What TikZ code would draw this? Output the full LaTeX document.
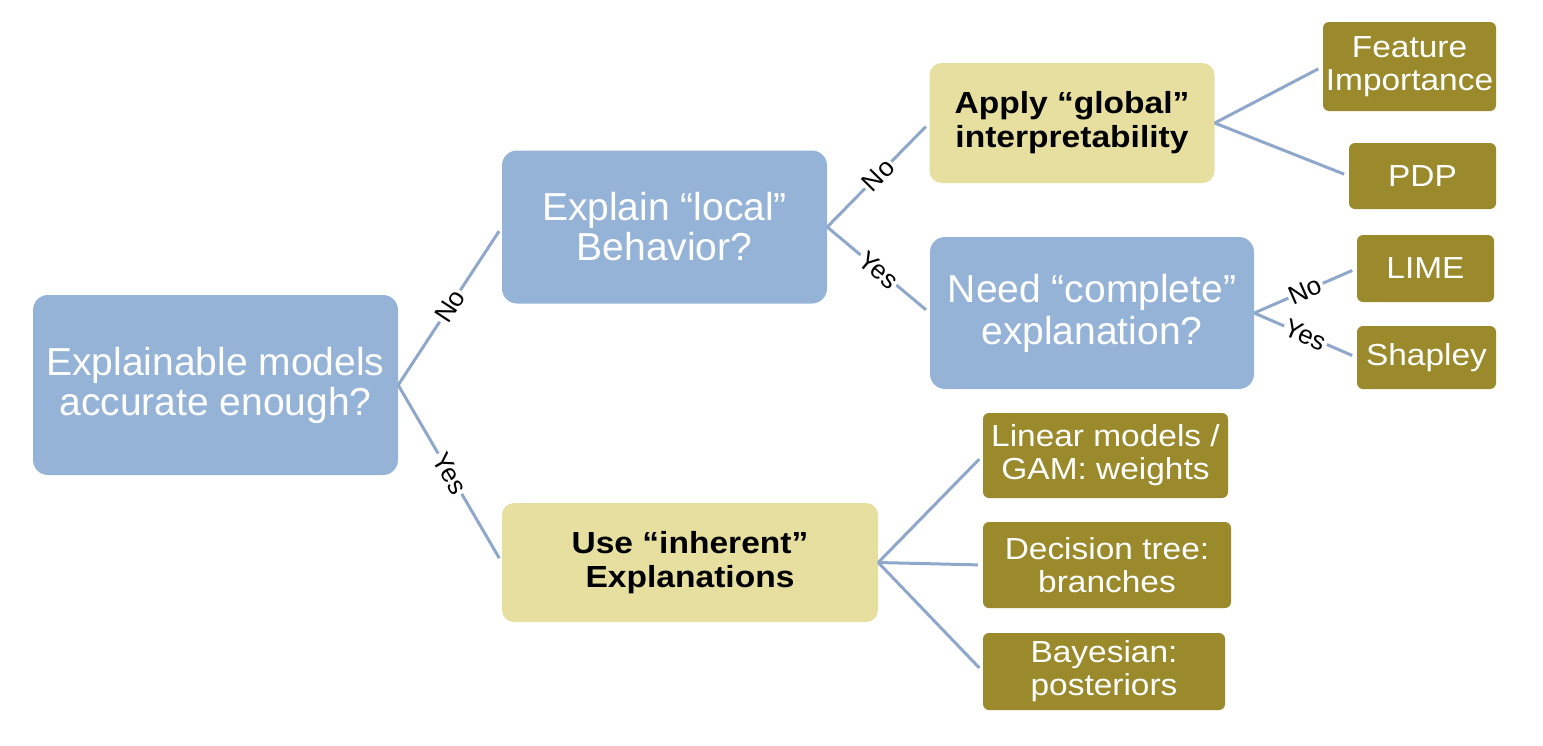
\documentclass[tikz,border=0pt]{standalone}
\usepackage{fontspec}
\setmainfont{Liberation Sans}
\newfontfamily\widesans{Liberation Sans}[FakeStretch=1.1]
\definecolor{qblue}{HTML}{95B3D7}
\definecolor{qtan}{HTML}{E6DFA0}
\definecolor{qolive}{HTML}{9A8A2C}
\definecolor{qline}{HTML}{8FA7CB}
\begin{document}
\begin{tikzpicture}[x=1pt,y=-1pt,
  question/.style={fill=qblue, text=white, rounded corners=15pt, align=center, inner sep=0pt,
    font=\fontsize{39}{40}\selectfont},
  advice/.style={fill=qtan, text=black, rounded corners=12pt, align=center, inner sep=0pt,
    font=\widesans\bfseries\fontsize{30.5}{34}\selectfont},
  method/.style={fill=qolive, text=white, rounded corners=6pt, align=center, inner sep=0pt,
    font=\widesans\fontsize{30.4}{33}\selectfont},
  link/.style={draw=qline, line width=3pt, shorten >=5pt},
  answer/.style={sloped, fill=white, text=black, inner sep=2pt, font=\fontsize{26}{26}\selectfont}]
\useasboundingbox (0,0) rectangle (1543,745);
% questions
\node[question, minimum width=365pt, minimum height=180pt] (root) at (215.5,385) {Explainable models\\accurate enough?};
\node[question, minimum width=325pt, minimum height=153pt] (local) at (664.5,227) {Explain “local”\\Behavior?};
\node[question, minimum width=324pt, minimum height=152pt, font=\fontsize{39}{42}\selectfont] (complete) at (1092,313) {Need “complete”\\explanation?};
% advice
\node[advice, minimum width=285pt, minimum height=120pt] (global) at (1072,123) {Apply “global”\\interpretability};
\node[advice, minimum width=376pt, minimum height=119pt] (inherent) at (690,562.5) {Use “inherent”\\Explanations};
% methods
\node[method, minimum width=173pt, minimum height=89pt] (feature) at (1409.5,66.5) {Feature\\Importance};
\node[method, minimum width=147pt, minimum height=66pt] (pdp) at (1422.5,176) {PDP};
\node[method, minimum width=137pt, minimum height=67pt] (lime) at (1425.5,268.5) {LIME};
\node[method, minimum width=139pt, minimum height=63pt] (shapley) at (1426.5,357.5) {Shapley};
\node[method, minimum width=245pt, minimum height=85pt] (linear) at (1105.5,455.5) {Linear models /\\GAM: weights};
\node[method, minimum width=248pt, minimum height=86pt] (tree) at (1107,565) {Decision tree:\\branches};
\node[method, minimum width=242pt, minimum height=77pt] (bayes) at (1104,671.5) {Bayesian:\\posteriors};
% links
\draw[link] (root.east) -- node[answer]{No} (local.west);
\draw[link] (root.east) -- node[answer]{Yes} (inherent.west);
\draw[link] (local.east) -- node[answer]{No} (global.west);
\draw[link] (local.east) -- node[answer]{Yes} (complete.west);
\draw[link] (complete.east) -- node[answer]{No} (lime.west);
\draw[link] (complete.east) -- node[answer]{Yes} (shapley.west);
\draw[link] (global.east) -- (feature.west);
\draw[link] (global.east) -- (pdp.west);
\draw[link] (inherent.east) -- (linear.west);
\draw[link] (inherent.east) -- (tree.west);
\draw[link] (inherent.east) -- (bayes.west);
\end{tikzpicture}
\end{document}
